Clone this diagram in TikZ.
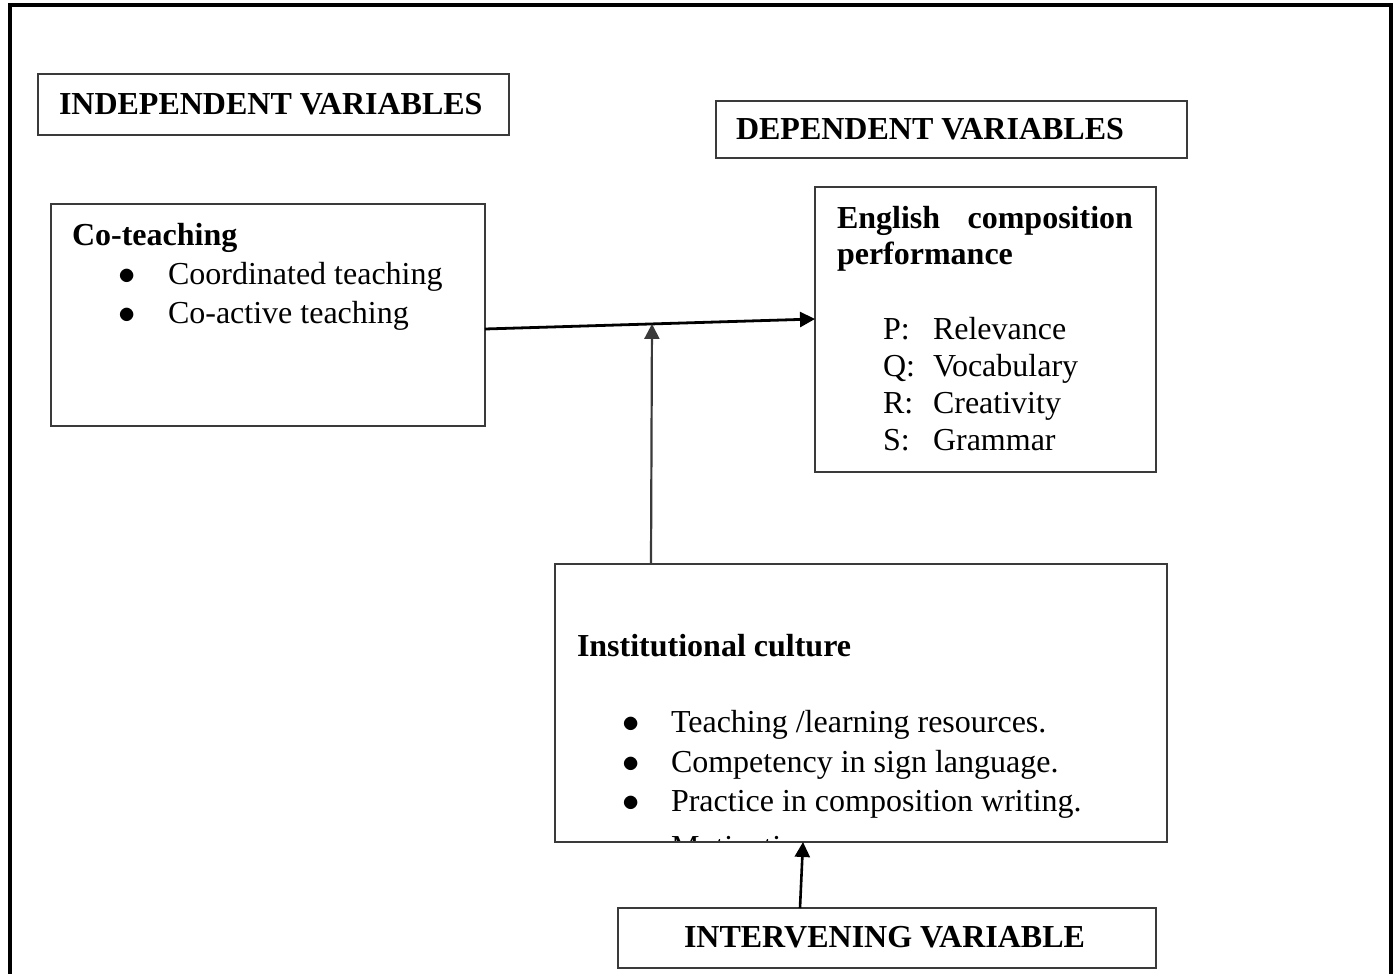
\documentclass[tikz,border=0pt]{standalone}
\usepackage{fontspec}
\setmainfont{Liberation Serif}
\usetikzlibrary{arrows.meta,calc}
\definecolor{boxgray}{HTML}{3A3A3A}
\begin{document}
\begin{tikzpicture}[x=0.5pt,y=-0.5pt,
  box/.style n args={2}{draw=boxgray,line width=1.1pt,minimum width=#1,minimum height=#2,inner sep=0pt,outer sep=0pt},
  txt/.style={anchor=base west,inner sep=0pt,outer sep=0pt,font=\fontsize{16}{19}\selectfont},
  hd/.style={txt,font=\fontsize{16}{19}\selectfont\bfseries},
  bul/.style={anchor=base,inner sep=0pt,outer sep=0pt,font=\fontsize{16}{19}\selectfont},
  mainarrow/.style={line width=1.4pt,black,-{Triangle[length=7.5pt,width=7.5pt]}},
  subarrow/.style={line width=1.1pt,boxgray,-{Triangle[length=7.5pt,width=7.5pt]}},
  intarrow/.style={line width=1.3pt,black,-{Triangle[length=7.5pt,width=7.5pt]}}]
\useasboundingbox (0,0) rectangle (1399,974);
\fill[white] (0,0) rectangle (1399,974);
% outer frame (open at the bottom)
\draw[line width=2pt,black] (10,974) -- (10,5) -- (1391,5) -- (1391,974);

% boxes
\node[box={235.5pt}{30.5pt}] (indep) at (273.5,104.5) {};
\node[box={235.5pt}{28.5pt}] (dep) at (951.5,129.5) {};
\node[box={217pt}{111pt}] (cot) at (268,315) {};
\node[box={170.5pt}{142.5pt}] (eng) at (985.5,329.5) {};
\node[box={306pt}{139pt}] (inst) at (861,703) {};
\node[box={269pt}{30pt}] (intv) at (887,938) {};

% box titles
\node[hd] (indept) at (59,115) {INDEPENDENT VARIABLES};
\node[hd] (dept) at (736,140) {DEPENDENT VARIABLES};
\node[hd] (intvt) at (684,947) {INTERVENING VARIABLE};

% co-teaching
\node[hd] (cott) at (72,245) {Co-teaching};
\node[bul] (cb1) at (127,285) {$\bullet$};
\node[txt] (c1) at (168,285) {Coordinated teaching};
\node[bul] (cb2) at (127,323) {$\bullet$};
\node[txt] (c2) at (168,323) {Co-active teaching};

% English composition
\node[hd] (engt1) at (837,228) {\makebox[148pt][s]{English composition}};
\node[hd] (engt2) at (837,264) {performance};
\node[txt] (p) at (883,339) {P:};
\node[txt] (pt) at (933,339) {Relevance};
\node[txt] (q) at (883,376) {Q:};
\node[txt] (qt) at (933,376) {Vocabulary};
\node[txt] (r) at (883,413) {R:};
\node[txt] (rt) at (933,413) {Creativity};
\node[txt] (s) at (883,450) {S:};
\node[txt] (st) at (933,450) {Grammar};

% institutional culture
\node[hd] (instt) at (577,656) {Institutional culture};
\node[bul] (ib1) at (631,732) {$\bullet$};
\node[txt] (i1) at (671,732) {Teaching /learning resources.};
\node[bul] (ib2) at (631,772) {$\bullet$};
\node[txt] (i2) at (671,772) {Competency in sign language.};
\node[bul] (ib3) at (631,811) {$\bullet$};
\node[txt] (i3) at (671,811) {Practice in composition writing.};
\begin{scope}
  \clip (inst.south west) rectangle (inst.north east);
  \node[txt] (i4) at (671,857) {Motivation.};
\end{scope}
\draw[draw=boxgray,line width=1.1pt] (inst.south west) rectangle (inst.north east);

% connectors
\coordinate (hs) at ([yshift=-7pt]cot.east);
\coordinate (he) at ([yshift=5.25pt]eng.west);
\draw[mainarrow] (hs) -- (he);
\coordinate (hm) at ($(hs)!0.506!(he)$);
\draw[subarrow] ([xshift=-105pt]inst.north) -- (hm);
\draw[intarrow] ([xshift=-43.5pt]intv.north) -- ([xshift=-29pt]inst.south);
\end{tikzpicture}
\end{document}
